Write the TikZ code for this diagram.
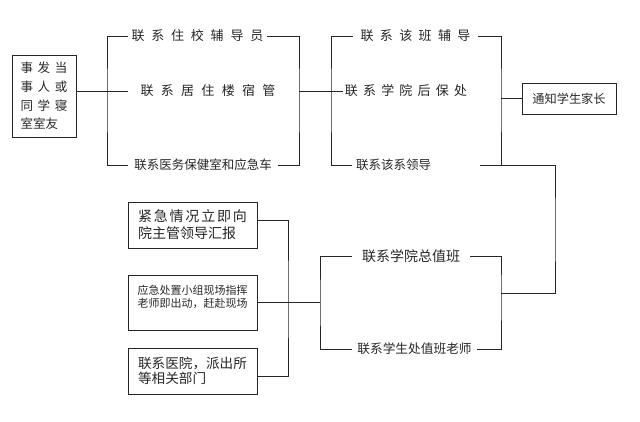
\documentclass[tikz,border=0pt]{standalone}
\usepackage{fontspec}
\usepackage{tikz}
\newfontfamily\cjk{Noto Sans CJK SC}
\newfontfamily\wideA[LetterSpace=37]{Noto Sans CJK SC}
\newfontfamily\wideB[LetterSpace=52]{Noto Sans CJK SC}
\newfontfamily\wideC[LetterSpace=56]{Noto Sans CJK SC}
\newfontfamily\wideD[LetterSpace=13]{Noto Sans CJK SC}
\newfontfamily\wideE[LetterSpace=49]{Noto Sans CJK SC}
\newfontfamily\wideF[LetterSpace=40]{Noto Sans CJK SC}

\begin{document}
\begin{tikzpicture}[x=1pt, y=-1pt, line width=0.8pt, color=black!85,
    lab/.style = {inner sep=0pt, minimum height=14pt, font=\fontsize{13}{15}\selectfont\cjk},
    frame/.style = {draw, inner sep=0pt, font=\fontsize{13}{15}\selectfont\cjk}]

    \useasboundingbox (0,0) rectangle (640,421);

    \node[frame, minimum width=64pt, minimum height=82pt, align=left,
          font=\fontsize{12.5}{18.7}\selectfont\cjk] (src) at (44,96)
          {{\wideA 事发当}\\{\wideA 事人或}\\{\wideA 同学寝}\\室室友};

    \node[lab, minimum width=139pt] (fdy) at (197.5,36) {\wideB 联系住校辅导员};
    \node[lab, minimum width=160pt] (jz) at (208,91) {\wideC 联系居住楼宿管};
    \node[lab, minimum width=150pt, font=\fontsize{12.5}{15}\selectfont\cjk] (yw) at (203,165) {联系医务保健室和应急车};

    \node[lab, minimum width=125pt] (bd) at (415.5,36) {\wideE 联系该班辅导};
    \node[lab, minimum width=126pt] (hb) at (406,91) {\wideF 联系学院后保处};
    \node[lab, text width=120pt, inner xsep=4pt, align=left, font=\fontsize{12.5}{15}\selectfont\cjk] (ld) at (416,165) {联系该系领导};

    \node[frame, minimum width=94pt, minimum height=31pt, font=\fontsize{12.2}{15}\selectfont\cjk] (tz) at (569,98.5) {通知学生家长};

    \node[lab, minimum width=118pt, font=\fontsize{14}{16}\selectfont\cjk] (zb) at (411,256) {联系学院总值班};
    \node[lab, minimum width=125pt, font=\fontsize{12.7}{15}\selectfont\cjk] (xs) at (414.5,349) {联系学生处值班老师};

    \node[frame, minimum width=129pt, minimum height=46pt, align=left,
          font=\fontsize{14}{17}\selectfont\cjk] (k1) at (192.5,225)
          {{\wideD 紧急情况立即向}\\院主管领导汇报};
    \node[frame, minimum width=129pt, minimum height=55pt, align=left,
          font=\fontsize{11}{13}\selectfont\cjk] (k2) at (192.5,302.5)
          {应急处置小组现场指挥\\老师即出动，赶赴现场\\\mbox{}};
    \node[frame, minimum width=129pt, minimum height=46pt, align=left,
          font=\fontsize{13.6}{15}\selectfont\cjk] (k3) at (192.5,371)
          {联系医院，派出所\\等相关部门};

    \coordinate (b1) at (107,100);
    \coordinate (b2) at (299,100);
    \coordinate (b3) at (331,100);
    \coordinate (b4) at (501,100);
    \coordinate (b5) at (555,230);
    \coordinate (b6) at (501,293);
    \coordinate (b7) at (320,302.5);
    \coordinate (b8) at (288,300);

    \draw (fdy.west) -| (b1) |- (yw.west);
    \draw (fdy.east) -| (b2) |- (yw.east);
    \draw (src.east |- jz.west) -- (jz.west);
    \draw (b2 |- jz.east) -- (hb.west);
    \draw (bd.west) -| (b3) |- (ld.west);
    \draw (bd.east) -| (b4) |- (ld.east);
    \draw (b4 |- tz.west) -- (tz.west);
    \draw (ld.east) -| (b5) |- (b6);
    \draw (zb.east) -| (b6) |- (xs.east);
    \draw (zb.west) -| (b7) |- (xs.west);
    \draw (b7) -- (k2.east);
    \draw ([yshift=5pt]k1.east) -| (b8) |- ([yshift=-5.7pt]k3.east);
\end{tikzpicture}
\end{document}
